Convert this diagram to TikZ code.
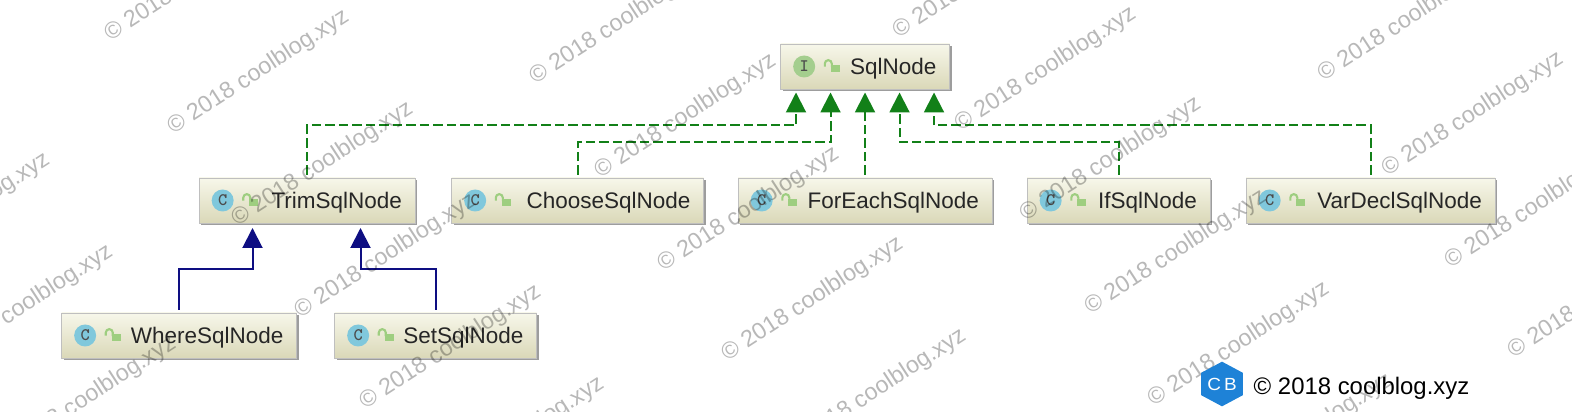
\documentclass[tikz,border=0pt]{standalone}
\usepackage{fontspec}
\setmainfont{Liberation Sans}
\usetikzlibrary{shapes,shapes.geometric,arrows.meta,positioning,calc,shadows}
\definecolor{realizegreen}{RGB}{18,128,24}
\definecolor{extendblue}{RGB}{14,14,130}
\definecolor{classblue}{RGB}{128,200,220}
\definecolor{ifacegreen}{RGB}{164,206,142}
\definecolor{lockgreen}{RGB}{158,206,128}
\definecolor{cbblue}{RGB}{30,130,215}
\definecolor{boxtop}{RGB}{247,247,234}
\definecolor{boxbottom}{RGB}{218,216,184}
\tikzset{
	umlbox/.style = {draw=black!25, top color=boxtop, bottom color=boxbottom, minimum height=.9cm, inner xsep=.26cm, inner ysep=0pt, align=flush right, text height=.39cm, text depth=.05cm, font=\fontsize{12.8}{14}\selectfont, text=black!85, drop shadow={shadow xshift=.04cm, shadow yshift=-.04cm, fill=black!55, opacity=.7}},
	tmp/.style = {coordinate},
	classicon/.style = {circle, fill=classblue, minimum size=.44cm, inner sep=0pt, font=\ttfamily\bfseries\fontsize{10}{10}\selectfont, text=black!70},
	ifaceicon/.style = {classicon, fill=ifacegreen},
	lockbody/.style = {fill=lockgreen, minimum width=.18cm, minimum height=.14cm, inner sep=0pt},
	lockshackle/.style = {draw=lockgreen, line width=1.2pt},
	realize/.style = {draw=realizegreen, line width=.04cm, dash pattern=on .19cm off .08cm, shorten <=.06cm, -{Triangle[width=.4cm,length=.4cm,fill=realizegreen,sep=0pt]}},
	extend/.style = {draw=extendblue, line width=.04cm, shorten <=.06cm, -{Triangle[width=.4cm,length=.4cm,fill=extendblue]}},
	watermark/.style = {rotate=33, anchor=base west, inner sep=0pt, font=\fontsize{13.3}{15}\selectfont, text=black, text opacity=.28}
}
\begin{document}
\begin{tikzpicture}[node distance=2.68cm]
	\useasboundingbox (0,0) rectangle (31.44,-8.24);
	% ========================== Nodes ============================
	\node [umlbox, text width=2.86cm] (sqlnode) at (17.30,-1.33) {SqlNode};
	% Nodes in the middle line
	\node [umlbox, text width=4.56cm, below of=sqlnode] (foreach) {ForEachSqlNode};
	\node [umlbox, text width=4.52cm, left of=foreach, node distance=5.75cm] (choose) {ChooseSqlNode};
	\node [umlbox, text width=3.8cm, left of=choose, node distance=5.41cm] (trim) {TrimSqlNode};
	\node [umlbox, text width=3.14cm, right of=foreach, node distance=5.07cm] (ifnode) {IfSqlNode};
	\node [umlbox, text width=4.46cm, right of=ifnode, node distance=5.04cm] (vardecl) {VarDeclSqlNode};
	% Nodes in the lower line
	\node [umlbox, text width=4.18cm, below of=trim, node distance=2.7cm, xshift=-2.56cm] (where) {WhereSqlNode};
	\node [umlbox, text width=3.52cm, below of=trim, node distance=2.7cm, xshift=2.57cm] (setnode) {SetSqlNode};

	% Icons
	\node [ifaceicon] (sqlnodeicon) at ($(sqlnode.west)+(.48,0)$) {I};
	\node [lockbody] (sqlnodelock) at ($(sqlnode.west)+(1.1,-.05)$) {};
	\draw [lockshackle] (sqlnodelock.north west) ++(.03,-.04) -- ++(0,.07) arc[start angle=0, end angle=180, radius=.07] -- ++(0,-.06);
	\foreach \boxname in {trim,choose,foreach,ifnode,vardecl,where,setnode} {
		\node [classicon] (\boxname icon) at ($(\boxname.west)+(.48,0)$) {C};
		\node [lockbody] (\boxname lock) at ($(\boxname.west)+(1.1,-.05)$) {};
		\draw [lockshackle] (\boxname lock.north west) ++(.03,-.04) -- ++(0,.07) arc[start angle=0, end angle=180, radius=.07] -- ++(0,-.06);
	}

	% Arrow ends and bends
	\node [tmp, below of=sqlnode, node distance=.52cm, xshift=-1.38cm] (tip1) {};
	\node [tmp, below of=sqlnode, node distance=.52cm, xshift=-.69cm] (tip2) {};
	\node [tmp, below of=sqlnode, node distance=.52cm] (tip3) {};
	\node [tmp, below of=sqlnode, node distance=.52cm, xshift=.69cm] (tip4) {};
	\node [tmp, below of=sqlnode, node distance=.52cm, xshift=1.38cm] (tip5) {};
	\node [tmp, below of=tip1, node distance=.66cm] (bend1) {};
	\node [tmp, below of=tip2, node distance=1cm] (bend2) {};
	\node [tmp, below of=tip4, node distance=1cm] (bend4) {};
	\node [tmp, below of=tip5, node distance=.66cm] (bend5) {};
	\node [tmp, below of=trim, node distance=.55cm, xshift=-1.09cm] (triml) {};
	\node [tmp, below of=trim, node distance=.55cm, xshift=1.07cm] (trimr) {};
	\node [tmp, below of=triml, node distance=.82cm] (bendl) {};
	\node [tmp, below of=trimr, node distance=.82cm] (bendr) {};

	% ========================== Lines ============================
	\draw [realize] (trim.north) |- (bend1) -- (tip1);
	\draw [realize] (choose.north) |- (bend2) -- (tip2);
	\draw [realize] (foreach.north) -- (tip3);
	\draw [realize] (ifnode.north) |- (bend4) -- (tip4);
	\draw [realize] (vardecl.north) |- (bend5) -- (tip5);
	\draw [extend] (where.north) |- (bendl) -- (triml);
	\draw [extend] (setnode.north) |- (bendr) -- (trimr);

	% Watermark over everything
	\foreach \wx/\wy [count=\wi] in {105/35,168/128,232/220,295/312,360/403,423/495,530/78,595/172,658/265,722/355,785/447,893/32,955/125,1020/215,1085/308,1148/400,1211/492,1318/75,1382/170,1445/262,1508/352,-131/271,-68/363,-5/455}
		\node [watermark] (mark\wi) at ({(\wx+5)*.02},{-(\wy+7)*.02}) {© 2018 coolblog.xyz};

	% Logo
	\node [regular polygon, regular polygon sides=6, regular polygon rotate=30, fill=cbblue, minimum size=.74cm, inner sep=0pt, xscale=1.08, text=white, font=\fontsize{10}{10}\selectfont] (logo) at (24.44,-7.68) {C\,B};
	\node [right of=logo, node distance=2.79cm, yshift=-.08cm, inner sep=0pt, text=black, font=\fontsize{13.6}{16}\selectfont] (logotext) {© 2018 coolblog.xyz};
\end{tikzpicture}
\end{document}
